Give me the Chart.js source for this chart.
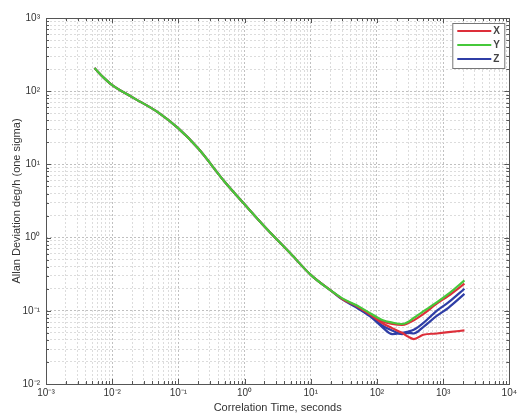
<!DOCTYPE html>
<html lang="en">
<head>
  <meta charset="UTF-8">
  <title>Allan Deviation</title>
  <style>
    body {
      margin: 0;
      padding: 0;
      background: #fff;
    }
    #wrap {
      width: 520px;
      height: 419px;
    }
  </style>
  <script src="https://cdn.jsdelivr.net/npm/chart.js"></script>
</head>
<body>
  <div id="wrap">
    <canvas id="adevChart" width="520" height="419"></canvas>
  </div>
  <script>
    // correlation time (s)
    const tau = [0.0054, 0.0075, 0.01, 0.02, 0.05, 0.1, 0.2, 0.5, 1, 2, 5, 10, 20, 30, 50, 80,
                 120, 170, 240, 300, 360, 500, 800, 1200, 2100];
    // allan deviation, deg/h
    const sigmaX  = [207, 152, 121, 83, 51, 31, 16.5, 5.8, 2.85, 1.42, 0.6, 0.31, 0.19, 0.145, 0.115, 0.088,
                     0.068, 0.058, 0.05, 0.044, 0.041, 0.047, 0.049, 0.051, 0.054];
    const sigmaX2 = [null, null, null, null, null, null, null, null, null, null, null, null, null, null, 0.115, 0.09,
                     0.072, 0.066, 0.064, 0.068, 0.074, 0.09, 0.125, 0.16, 0.235];
    const sigmaY  = [207, 152, 121, 83, 51, 31, 16.5, 5.8, 2.85, 1.42, 0.6, 0.31, 0.19, 0.148, 0.118, 0.092,
                     0.075, 0.069, 0.066, 0.071, 0.08, 0.098, 0.13, 0.17, 0.26];
    const sigmaZ  = [207, 152, 121, 83, 51, 31, 16.5, 5.8, 2.85, 1.42, 0.6, 0.31, 0.19, 0.143, 0.11, 0.083,
                     0.06, 0.048, 0.05, 0.052, 0.055, 0.068, 0.1, 0.13, 0.2];
    const sigmaZ2 = [null, null, null, null, null, null, null, null, null, null, null, null, null, null, 0.11, 0.085,
                     0.063, 0.054, 0.048, 0.05, 0.049, 0.06, 0.085, 0.11, 0.17];
    const legendLabels = ['X', 'Y', 'Z'];
    const xTickExp = [-3, -2, -1, 0, 1, 2, 3, 4];
    const yTickExp = [-2, -1, 0, 1, 2, 3];

    const RED = '#dd2f3a', GREEN = '#46c83a', BLUE = '#2f3ea6';

    const sup = { '-': '\u207B', '0': '\u2070', '1': '\u00B9', '2': '\u00B2', '3': '\u00B3', '4': '\u2074' };
    function powLabel(v) {
      const e = Math.round(Math.log10(v));
      if (Math.abs(Math.log10(v) - e) > 1e-6) return '';
      return '10' + String(e).split('').map(c => sup[c]).join('');
    }
    function isMajor(v) {
      const l = Math.log10(v);
      return Math.abs(l - Math.round(l)) < 1e-6;
    }
    // 1..9 x 10^e between first and last exponent
    function logTicks(exps) {
      const out = [];
      for (let e = exps[0]; e < exps[exps.length - 1]; e++) {
        for (let m = 1; m <= 9; m++) out.push({ value: m * Math.pow(10, e) });
      }
      out.push({ value: Math.pow(10, exps[exps.length - 1]) });
      return out;
    }
    const pts = vals => tau.map((t, i) => ({ x: t, y: vals[i] }));

    // frame + inward ticks like matlab
    const framePlugin = {
      id: 'frame',
      afterDatasetsDraw(chart) {
        const { ctx, chartArea: a, scales } = chart;
        ctx.save();
        ctx.strokeStyle = '#555';
        ctx.lineWidth = 1;
        ctx.beginPath();
        scales.x.ticks.forEach(t => {
          const px = Math.round(scales.x.getPixelForValue(t.value)) + 0.5;
          const len = isMajor(t.value) ? 5 : 3;
          ctx.moveTo(px, a.bottom); ctx.lineTo(px, a.bottom - len);
          ctx.moveTo(px, a.top); ctx.lineTo(px, a.top + len);
        });
        scales.y.ticks.forEach(t => {
          const py = Math.round(scales.y.getPixelForValue(t.value)) + 0.5;
          const len = isMajor(t.value) ? 5 : 3;
          ctx.moveTo(a.left, py); ctx.lineTo(a.left + len, py);
          ctx.moveTo(a.right, py); ctx.lineTo(a.right - len, py);
        });
        ctx.stroke();
        ctx.strokeRect(Math.round(a.left) + 0.5, Math.round(a.top) + 0.5,
                       Math.round(a.right - a.left), Math.round(a.bottom - a.top));
        ctx.restore();
      }
    };

    // legend box in the top right corner
    const legendBox = {
      id: 'legendBox',
      afterDraw(chart) {
        const { ctx, chartArea: a } = chart;
        const items = legendLabels.map(l => chart.data.datasets.find(d => d.label === l));
        const w = 52, h = 45;
        const left = a.right - 5 - w, top = a.top + 5;
        ctx.save();
        ctx.fillStyle = '#fff';
        ctx.fillRect(left, top, w, h);
        ctx.strokeStyle = '#777';
        ctx.lineWidth = 1;
        ctx.strokeRect(left + 0.5, top + 0.5, w, h);
        ctx.font = 'bold 10px "Liberation Sans", Arial, sans-serif';
        ctx.textBaseline = 'middle';
        items.forEach((d, i) => {
          const y = top + 8 + i * 14;
          ctx.strokeStyle = d.borderColor;
          ctx.lineWidth = 2;
          ctx.beginPath();
          ctx.moveTo(left + 5, y);
          ctx.lineTo(left + 39, y);
          ctx.stroke();
          ctx.fillStyle = '#444';
          ctx.fillText(d.label, left + 41, y + 0.5);
        });
        ctx.restore();
      }
    };

    const gridColor = c => isMajor(c.tick.value) ? '#c0c0c0' : '#dcdcdc';

    new Chart(document.getElementById('adevChart').getContext('2d'), {
      type: 'line',
      data: {
        datasets: [
          { label: 'Y', data: pts(sigmaY), borderColor: GREEN, order: 0 },
          { label: 'X', data: pts(sigmaX), borderColor: RED, order: 1 },
          { label: 'X2', data: pts(sigmaX2), borderColor: RED, order: 2 },
          { label: 'Z', data: pts(sigmaZ), borderColor: BLUE, order: 3 },
          { label: 'Z2', data: pts(sigmaZ2), borderColor: BLUE, order: 4 }
        ].map(d => Object.assign({
          borderWidth: 2.2,
          pointRadius: 0,
          cubicInterpolationMode: 'monotone',
          fill: false,
          spanGaps: false
        }, d))
      },
      options: {
        responsive: false,
        animation: false,
        plugins: {
          legend: { display: false },
          tooltip: { enabled: false }
        },
        layout: { padding: { top: 18, right: 10, left: 0, bottom: 0 } },
        scales: {
          x: {
            type: 'logarithmic',
            min: 1e-3,
            max: 1e4,
            afterBuildTicks: s => { s.ticks = logTicks(xTickExp); },
            afterFit: s => { s.height = 35; },
            ticks: {
              autoSkip: false,
              maxRotation: 0,
              padding: 3,
              color: '#333',
              font: { family: '"Liberation Sans", Arial, sans-serif', size: 10 },
              callback: v => powLabel(v)
            },
            grid: { color: gridColor, lineWidth: 1, drawTicks: false },
            border: { display: false, dash: [2, 2] },
            title: {
              display: true,
              text: 'Correlation Time, seconds',
              color: '#333',
              padding: { top: 0, bottom: 4 },
              font: { family: '"Liberation Sans", Arial, sans-serif', size: 11 }
            }
          },
          y: {
            type: 'logarithmic',
            min: 1e-2,
            max: 1e3,
            afterBuildTicks: s => { s.ticks = logTicks(yTickExp); },
            afterFit: s => { s.width = 46; },
            ticks: {
              autoSkip: false,
              padding: 6,
              color: '#333',
              font: { family: '"Liberation Sans", Arial, sans-serif', size: 10 },
              callback: v => powLabel(v)
            },
            grid: { color: gridColor, lineWidth: 1, drawTicks: false },
            border: { display: false, dash: [2, 2] },
            title: {
              display: true,
              text: 'Allan Deviation deg/h (one sigma)',
              color: '#333',
              padding: { top: 10, bottom: 0 },
              font: { family: '"Liberation Sans", Arial, sans-serif', size: 11 }
            }
          }
        }
      },
      plugins: [framePlugin, legendBox]
    });
  </script>
</body>
</html>
